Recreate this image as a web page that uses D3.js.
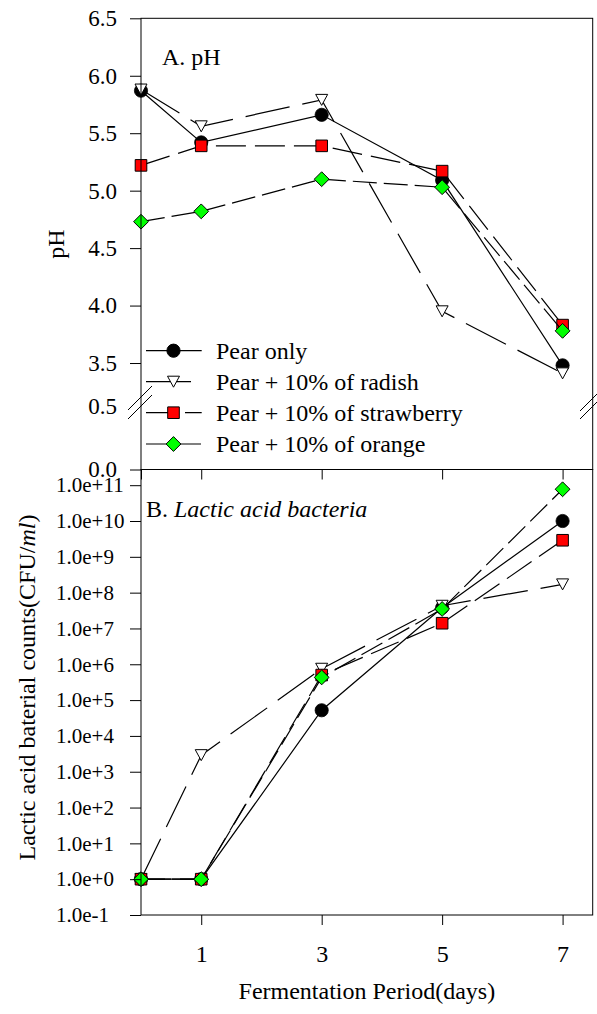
<!DOCTYPE html>
<html>
<head>
<meta charset="utf-8">
<script src="https://cdn.jsdelivr.net/npm/d3@7"></script>
<style>
  html, body { margin: 0; padding: 0; background: #fff; }
  svg { display: block; font-family: "Liberation Serif", "Times New Roman", serif; }
  svg text { font-family: "Liberation Serif", "Times New Roman", serif; }
</style>
</head>
<body>
<svg id="chart" width="597" height="1014"></svg>
<script>
// Fermentation days sampled
const days = [0, 1, 3, 5, 7];

// Series labels
const seriesNames = [
  "Pear only",
  "Pear + 10% of radish",
  "Pear + 10% of strawberry",
  "Pear + 10% of orange"
];

// Panel A: pH
const phPearOnly    = [5.87, 5.42, 5.66, 5.09, 3.48];
const phRadish      = [5.88, 5.56, 5.79, 3.95, 3.41];
const phStrawberry  = [5.22, 5.39, 5.39, 5.17, 3.83];
const phOrange      = [4.73, 4.82, 5.10, 5.03, 3.78];

// Panel B: lactic acid bacteria (CFU/ml)
const labPearOnly   = [1, 1, 5.2e4, 3.8e7, 1.0e10];
const labRadish     = [1, 2.9e3, 7.5e5, 4.3e7, 1.7e8];
const labStrawberry = [1, 1, 5.0e5, 1.4e7, 2.9e9];
const labOrange     = [1, 1, 4.3e5, 3.5e7, 7.7e10];

// Tick values and labels
const phTicks = [0, 0.5, 3.5, 4.0, 4.5, 5.0, 5.5, 6.0, 6.5];
const labTicks = [1e-1, 1e0, 1e1, 1e2, 1e3, 1e4, 1e5, 1e6, 1e7, 1e8, 1e9, 1e10, 1e11];
const labTickLabels = ["1.0e-1", "1.0e+0", "1.0e+1", "1.0e+2", "1.0e+3", "1.0e+4",
  "1.0e+5", "1.0e+6", "1.0e+7", "1.0e+8", "1.0e+9", "1.0e+10", "1.0e+11"];
const dayTickLabels = [1, 3, 5, 7];

// Drawing styles per series
const styles = [
  { marker: "circle",   fill: "#000000", dash: null },
  { marker: "triangle", fill: "#ffffff", dash: "45,13" },
  { marker: "square",   fill: "#ff0000", dash: "30,9" },
  { marker: "diamond",  fill: "#00ff00", dash: "24,7" }
];

const phSeries = [phPearOnly, phRadish, phStrawberry, phOrange];
const labSeries = [labPearOnly, labRadish, labStrawberry, labOrange];

const svg = d3.select("#chart");

// Layout
const L = 141, R = 592.7;
const aTop = 18.3, aBot = 469.5;
const bTop = 469.5, bBot = 915;

const x = d3.scaleLinear().domain([0, 7.5]).range([L, R]);
// Broken pH axis: lower stub 0-0.5, upper 3.22-6.5
const yA = d3.scaleLinear().domain([0, 0.5, 3.22, 6.5]).range([aBot, 407, 395.2, aTop]);
const yB = d3.scaleLog().domain([0.1, Math.pow(10, 11.438)]).range([bBot, bTop]);

function markerPath(type) {
  switch (type) {
    case "circle": {
      const r = 6.6;
      return `M${r},0A${r},${r} 0 1,1 ${-r},0A${r},${r} 0 1,1 ${r},0Z`;
    }
    case "triangle": return "M-6,-5.5L6,-5.5L0,5.5Z";
    case "square": return "M-5.8,-5.8H5.8V5.8H-5.8Z";
    case "diamond": return "M0,-7.4L7.4,0L0,7.4L-7.4,0Z";
  }
}

function drawSeries(g, values, yScale, st) {
  const pts = days.map((d, i) => [x(d), yScale(values[i])]);
  g.append("path")
    .attr("d", d3.line()(pts))
    .attr("fill", "none")
    .attr("stroke", "#000")
    .attr("stroke-width", 1.2)
    .attr("stroke-dasharray", st.dash);
  g.selectAll(null).data(pts).enter().append("path")
    .attr("d", markerPath(st.marker))
    .attr("transform", p => `translate(${p[0]},${p[1]})`)
    .attr("fill", st.fill)
    .attr("stroke", "#000")
    .attr("stroke-width", st.marker === "circle" ? 0.8 : 1);
}

function cleanAxis(ax) {
  ax.attr("font-family", null).attr("font-size", null);
  ax.select(".domain").remove();
  ax.selectAll("line").attr("stroke", "#000");
  ax.selectAll("text").attr("fill", "#000");
}

// ---------- Panel A ----------
const gA = svg.append("g");
phSeries.forEach((vals, i) => drawSeries(gA, vals, yA, styles[i]));

gA.append("rect")
  .attr("x", L).attr("y", aTop).attr("width", R - L).attr("height", aBot - aTop)
  .attr("fill", "none").attr("stroke", "#000").attr("stroke-width", 1);

const axA = gA.append("g")
  .attr("transform", `translate(${L},0)`)
  .call(d3.axisLeft(yA).tickValues(phTicks.filter(v => v !== 0.5)).tickSize(11).tickPadding(13)
    .tickFormat(d3.format(".1f")));
cleanAxis(axA);
axA.selectAll("text").attr("font-size", 23);
// 0.5 label sits on the broken stub
axA.append("text").attr("x", -24).attr("y", yA(0.5)).attr("dy", "0.32em")
  .attr("text-anchor", "end").attr("font-size", 23).attr("fill", "#000").text("0.5");

const axAx = gA.append("g")
  .attr("transform", `translate(0,${aBot})`)
  .call(d3.axisBottom(x).tickValues(days).tickSize(10).tickFormat(""));
cleanAxis(axAx);

// Axis break marks
const breaks = [
  [[128, 410], [152, 386]], [[128, 419], [152, 395]],
  [[580, 411], [597, 394]], [[580, 419], [597, 402]]
];
gA.selectAll(null).data(breaks).enter().append("line")
  .attr("x1", d => d[0][0]).attr("y1", d => d[0][1])
  .attr("x2", d => d[1][0]).attr("y2", d => d[1][1])
  .attr("stroke", "#000").attr("stroke-width", 1);

gA.append("text").attr("x", 162).attr("y", 65).attr("font-size", 24).text("A. pH");

svg.append("text")
  .attr("transform", `translate(64,244) rotate(-90)`)
  .attr("text-anchor", "middle").attr("font-size", 24).text("pH");

// Legend
const legendRows = [350.7, 381.7, 412.7, 444];
const lg = gA.append("g");
seriesNames.forEach((name, i) => {
  const y = legendRows[i];
  lg.append("line").attr("x1", 146).attr("x2", 201.7).attr("y1", y).attr("y2", y)
    .attr("stroke", "#000").attr("stroke-width", 1.2).attr("stroke-dasharray", styles[i].dash);
  lg.append("path").attr("d", markerPath(styles[i].marker))
    .attr("transform", `translate(173.5,${y})`)
    .attr("fill", styles[i].fill).attr("stroke", "#000").attr("stroke-width", 1);
  lg.append("text").attr("x", 216).attr("y", y + 8).attr("font-size", 24).text(name);
});

// ---------- Panel B ----------
const gB = svg.append("g");
labSeries.forEach((vals, i) => drawSeries(gB, vals, yB, styles[i]));

gB.append("rect")
  .attr("x", L).attr("y", bTop).attr("width", R - L).attr("height", bBot - bTop)
  .attr("fill", "none").attr("stroke", "#000").attr("stroke-width", 1);

const axB = gB.append("g")
  .attr("transform", `translate(${L},0)`)
  .call(d3.axisLeft(yB).tickValues(labTicks).tickSize(11)
    .tickFormat((d, i) => labTickLabels[i]));
cleanAxis(axB);
axB.selectAll("text").attr("x", 56 - L).attr("text-anchor", "start").attr("font-size", 21);

const axBx = gB.append("g")
  .attr("transform", `translate(0,${bBot})`)
  .call(d3.axisBottom(x).tickValues(dayTickLabels).tickSize(10).tickPadding(20)
    .tickFormat(d3.format("d")));
cleanAxis(axBx);
axBx.selectAll("text").attr("font-size", 24);

const lblB = gB.append("text").attr("x", 146).attr("y", 517).attr("font-size", 24);
lblB.append("tspan").text("B. ");
lblB.append("tspan").attr("font-style", "italic").text("Lactic acid bacteria");

const yTitleB = svg.append("text")
  .attr("transform", `translate(35,687.5) rotate(-90)`)
  .attr("text-anchor", "middle").attr("font-size", 24);
yTitleB.append("tspan").text("Lactic acid baterial counts(CFU/");
yTitleB.append("tspan").attr("font-style", "italic").text("ml");
yTitleB.append("tspan").text(")");

svg.append("text")
  .attr("x", (L + R) / 2).attr("y", 999)
  .attr("text-anchor", "middle").attr("font-size", 24)
  .text("Fermentation Period(days)");
</script>
</body>
</html>
